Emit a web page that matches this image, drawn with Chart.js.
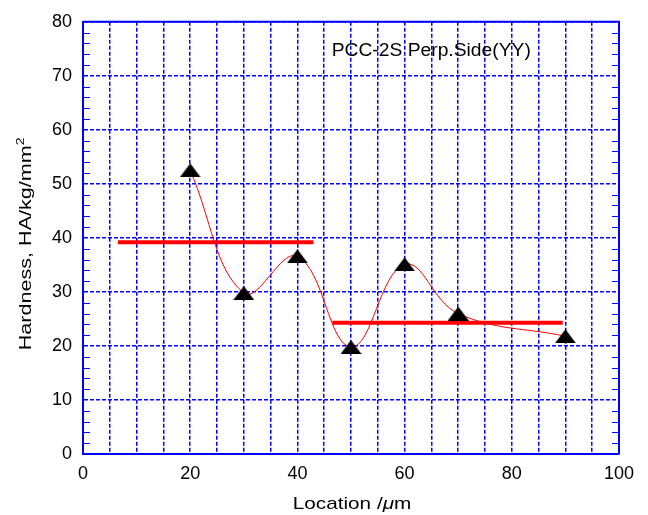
<!DOCTYPE html>
<html>
<head>
<meta charset="utf-8">
<script src="https://cdn.jsdelivr.net/npm/chart.js@4"></script>
<style>
  html, body { margin: 0; padding: 0; background: #fff; }
  #wrap { width: 648px; height: 515px; }
</style>
</head>
<body>
<div id="wrap"><canvas id="grafico"></canvas></div>
<script>
// measured hardness along the section
const locais = [20, 30, 40, 50, 60, 70, 90];
const durezas = [52.5, 29.8, 36.6, 19.8, 35.1, 26.0, 21.8];

// average levels for the two zones
const media1X = [6.5, 43];
const media1Y = [39.2, 39.2];
const media2X = [46.5, 89.5];
const media2Y = [24.3, 24.3];

const ticksX = [0, 20, 40, 60, 80, 100];
const rotulo = 'PCC-2S Perp.Side(YY)';

const azul = '#0000ff';
const vermelho = '#ff0000';
const fonte = "'Liberation Sans', Arial, sans-serif";

function pontos(xs, ys) {
    return xs.map((x, i) => ({ x: x, y: ys[i] }));
}

// flat black triangle used as marker
function criarTriangulo() {
    const c = document.createElement('canvas');
    c.width = 21;
    c.height = 14;
    const g = c.getContext('2d');
    g.fillStyle = '#000';
    g.beginPath();
    g.moveTo(0, 14);
    g.lineTo(10.5, 0);
    g.lineTo(21, 14);
    g.closePath();
    g.fill();
    return c;
}

// writes pieces of text side by side, stretched horizontally, centred on x
function textoEsticado(ctx, partes, x, y, escala, alinhar) {
    let largura = 0;
    partes.forEach(p => {
        ctx.font = p.font;
        largura += ctx.measureText(p.t).width;
    });
    ctx.save();
    ctx.translate(x, y);
    ctx.scale(escala, 1);
    let cx = alinhar === 'left' ? 0 : -largura / 2;
    partes.forEach(p => {
        ctx.font = p.font;
        ctx.fillText(p.t, cx, p.dy || 0);
        cx += ctx.measureText(p.t).width;
    });
    ctx.restore();
}

// frame on top/right, inward minor ticks, axis titles and the sample label
const moldura = {
    id: 'moldura',
    afterDraw(chart) {
        const { ctx, chartArea: a, scales } = chart;
        const y = scales.y;
        const x = scales.x;
        ctx.save();
        ctx.strokeStyle = azul;
        ctx.lineWidth = 1;
        for (let v = 0; v <= 80; v += 2) {
            if (v % 10 === 0) continue;
            const py = Math.round(y.getPixelForValue(v)) + 0.5;
            ctx.beginPath();
            ctx.moveTo(a.left, py);
            ctx.lineTo(a.left + 7, py);
            ctx.moveTo(a.right, py);
            ctx.lineTo(a.right - 7, py);
            ctx.stroke();
        }
        ctx.lineWidth = 2;
        ctx.beginPath();
        ctx.moveTo(a.left, a.top);
        ctx.lineTo(a.right, a.top);
        ctx.lineTo(a.right, a.bottom);
        ctx.stroke();

        ctx.fillStyle = '#000';
        ctx.textBaseline = 'alphabetic';
        textoEsticado(ctx, [{ t: rotulo, font: '18px ' + fonte }],
            x.getPixelForValue(46.4), y.getPixelForValue(73.6), 1.07, 'left');

        // x axis title
        textoEsticado(ctx, [
            { t: 'Location /', font: '17px ' + fonte },
            { t: 'μ', font: 'italic 17px ' + fonte },
            { t: 'm', font: '17px ' + fonte }
        ], (a.left + a.right) / 2 + 1, 509, 1.22);

        // y axis title, rotated
        ctx.save();
        ctx.translate(31, (a.top + a.bottom) / 2 + 6);
        ctx.rotate(-Math.PI / 2);
        textoEsticado(ctx, [
            { t: 'Hardness, HA/kg/mm', font: '17px ' + fonte },
            { t: '2', font: '11px ' + fonte, dy: -7 }
        ], 0, 0, 1.27);
        ctx.restore();
        ctx.restore();
    }
};

const ctx = document.getElementById('grafico');
new Chart(ctx, {
    type: 'scatter',
    data: {
        datasets: [
            {
                // spline through the measurements
                data: pontos(locais, durezas),
                showLine: true,
                tension: 0.4,
                borderColor: vermelho,
                borderWidth: 1,
                pointRadius: 0,
                order: 2
            },
            {
                data: pontos(media1X, media1Y),
                showLine: true,
                borderColor: vermelho,
                borderWidth: 4,
                pointRadius: 0,
                order: 3
            },
            {
                data: pontos(media2X, media2Y),
                showLine: true,
                borderColor: vermelho,
                borderWidth: 4,
                pointRadius: 0,
                order: 3
            },
            {
                data: pontos(locais, durezas),
                pointStyle: criarTriangulo(),
                pointRadius: 10,
                order: 1
            }
        ]
    },
    options: {
        responsive: true,
        maintainAspectRatio: false,
        animation: false,
        layout: { padding: { left: 0, right: 29, top: 16, bottom: 0 } },
        plugins: {
            legend: { display: false },
            tooltip: { enabled: false }
        },
        scales: {
            x: {
                type: 'linear',
                min: 0,
                max: 100,
                afterFit: (s) => { s.height = 61; },
                afterBuildTicks: (s) => {
                    const t = [];
                    for (let v = 0; v <= 100; v += 5) t.push({ value: v });
                    s.ticks = t;
                },
                ticks: {
                    color: '#000',
                    padding: 9,
                    maxRotation: 0,
                    autoSkip: false,
                    font: { family: fonte, size: 18 },
                    callback: (v) => ticksX.includes(v) ? String(v) : ''
                },
                grid: {
                    color: azul,
                    lineWidth: 1.5,
                    drawTicks: false
                },
                border: { color: azul, width: 2, dash: [4, 2] }
            },
            y: {
                min: 0,
                max: 80,
                afterFit: (s) => { s.width = 83; },
                ticks: {
                    stepSize: 10,
                    color: '#000',
                    padding: 11,
                    font: { family: fonte, size: 18 }
                },
                grid: {
                    color: azul,
                    lineWidth: 1.5,
                    drawTicks: false
                },
                border: { color: azul, width: 2, dash: [4, 2] }
            }
        }
    },
    plugins: [moldura]
});
</script>
</body>
</html>
